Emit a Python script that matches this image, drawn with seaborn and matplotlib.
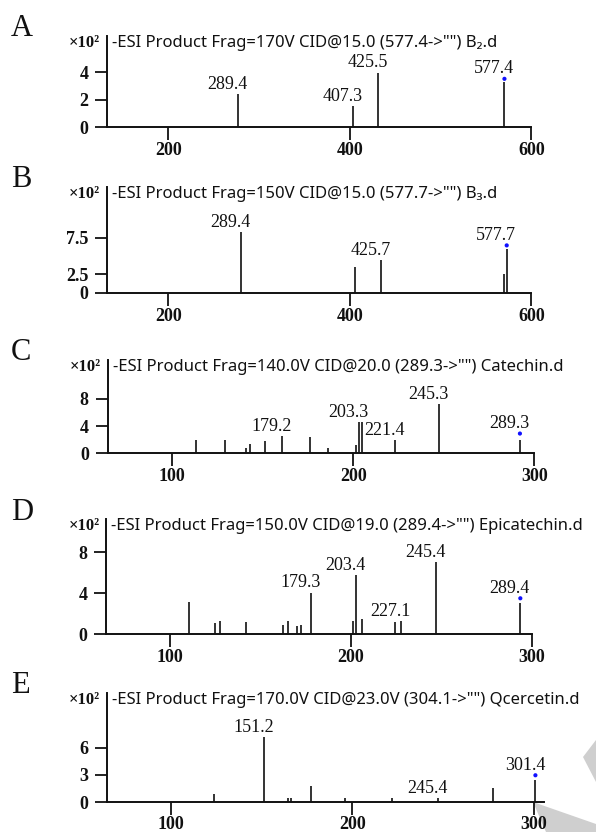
import matplotlib
matplotlib.use("Agg")
import matplotlib.pyplot as plt
import seaborn as sns
from matplotlib.patches import Polygon

sns.set_theme(style="ticks")
plt.rcParams['font.family'] = ['Liberation Serif', 'DejaVu Serif']

# ---- data (m/z positions and intensities x10^2) ----
A_mz = [277.1, 403.6, 431.2, 570.3]
A_int = [2.39, 1.51, 3.95, 3.29]
A_lab = {0: '289.4', 1: '407.3', 2: '425.5'}
A_prec = (570.3, 3.51, '577.4')
A_title = '-ESI Product Frag=170V CID@15.0 (577.4->"") B\u2082.d'

B_mz = [280.0, 405.2, 434.6, 569.8, 572.8]
B_int = [8.23, 3.55, 4.45, 2.50, 5.91]
B_lab = {0: '289.4', 2: '425.7'}
B_prec = (572.8, 6.45, '577.7')
B_title = '-ESI Product Frag=150V CID@15.0 (577.7->"") B\u2083.d'

C_mz = [113.2, 129.2, 140.9, 143.0, 151.4, 160.7, 175.8, 185.8,
        201.4, 203.0, 204.7, 223.2, 247.5, 292.0]
C_int = [1.96, 1.96, 0.83, 1.37, 1.76, 2.55, 2.35, 0.83,
         1.23, 4.60, 4.60, 1.96, 7.25, 1.96]
C_lab = {5: '179.2', 9: '203.3', 11: '221.4', 12: '245.3'}
C_prec = (292.0, 2.90, '289.3')
C_title = '-ESI Product Frag=140.0V CID@20.0 (289.3->"") Catechin.d'

D_mz = [110.5, 125.2, 127.5, 142.2, 162.7, 165.1, 170.3, 172.6,
        177.9, 200.9, 202.6, 206.0, 224.4, 227.6, 246.9, 293.5]
D_int = [3.19, 1.07, 1.30, 1.17, 0.94, 1.30, 0.81, 0.94,
         4.07, 1.30, 5.80, 1.47, 1.17, 1.30, 7.07, 3.03]
D_lab = {8: '179.3', 10: '203.4', 13: '227.1', 14: '245.4'}
D_prec = (293.5, 3.52, '289.4')
D_title = '-ESI Product Frag=150.0V CID@19.0 (289.4->"") Epicatechin.d'

E_mz = [123.9, 151.3, 164.5, 166.4, 177.3, 196.3, 222.1, 247.2, 277.8, 301.0]
E_int = [0.88, 7.12, 0.51, 0.51, 1.82, 0.47, 0.47, 0.47, 1.61, 2.45]
E_lab = {1: '151.2', 7: '245.4'}
E_prec = (301.0, 2.96, '301.4')
E_title = '-ESI Product Frag=170.0V CID@23.0V (304.1->"") Qcercetin.d'

W, H = 596, 832
fig = plt.figure(figsize=(W / 100, H / 100), dpi=100)

# grey decoration in the lower right corner
for pts in ([(583, 757), (596, 740), (596, 782)],
            [(533, 802), (596, 824), (596, 832), (546, 832)]):
    fig.add_artist(Polygon([(x / W, 1 - y / H) for x, y in pts], closed=True,
                           transform=fig.transFigure, facecolor='#cfcfcf',
                           edgecolor='none', zorder=0))

serif_b = dict(family=['Liberation Serif', 'DejaVu Serif'], weight='bold')
sans = ['Noto Sans', 'DejaVu Sans']


def panel(box, letter, mz, inten, lab, prec, title, xlim, ytop,
          xticks, yticks, yticklabels, xpad=1.2):
    left, right, top, bottom = box
    ax = fig.add_axes([left / W, 1 - bottom / H, (right - left) / W, (bottom - top) / H])
    ax.patch.set_alpha(0)
    ax.vlines(mz, 0, inten, color='#111111', lw=1.2)
    sns.scatterplot(x=[prec[0]], y=[prec[1]], ax=ax, color='#1010ff', marker='o',
                    s=9, edgecolor='none', legend=False)
    for i, t in lab.items():
        ax.annotate(t, xy=(mz[i], inten[i]), xytext=(-7.6, 3.9), textcoords='offset points',
                    ha='center', va='baseline', fontsize=13, color='#111111')
    ax.annotate(prec[2], xy=(prec[0], prec[1]), xytext=(-7.6, 3.9), textcoords='offset points',
                ha='center', va='baseline', fontsize=13, color='#111111')
    ax.set_xlim(*xlim)
    ax.set_ylim(0, ytop)
    ax.set_xticks(xticks)
    ax.set_xticklabels([str(v) for v in xticks], fontdict=serif_b, fontsize=13)
    ax.set_yticks(yticks)
    ax.set_yticklabels(yticklabels, fontdict=serif_b, fontsize=13)
    ax.tick_params(axis='x', direction='out', length=9.5, width=1.3, pad=xpad, colors='#111111')
    ax.tick_params(axis='y', direction='out', length=9, width=1.3, pad=4.5, colors='#111111')
    sns.despine(ax=ax)
    for s in ('left', 'bottom'):
        ax.spines[s].set_linewidth(1.4)
        ax.spines[s].set_color('#111111')
    ax.set_xlabel('')
    ax.set_ylabel('')
    # header texts in pixel positions above the axis
    ty = top + 7
    fig.text((left + 5) / W, 1 - ty / H, title, family=sans, fontsize=12,
             ha='left', va='center', color='#111111')
    fig.text((left - 7) / W, 1 - ty / H, '\u00d710\u00b2', fontsize=12, ha='right',
             va='center', color='#111111', **serif_b)
    fig.text(11 / W, 1 - (top - 7) / H, letter, fontsize=22, ha='left', va='center',
             family=['Liberation Serif', 'DejaVu Serif'], color='#111111')
    return ax


panel((107.2, 531.4, 36, 127), 'A', A_mz, A_int, A_lab, A_prec, A_title,
      (132.6, 600), 6.63, [200, 400, 600], [0, 2, 4], ['0', '2', '4'])
panel((107.2, 531.4, 186.7, 292.7), 'B', B_mz, B_int, B_lab, B_prec, B_title,
      (132.6, 600), 14.45, [200, 400, 600], [0, 2.5, 7.5], ['0', '2.5', '7.5'])
panel((107.6, 534.4, 360, 453.3), 'C', C_mz, C_int, C_lab, C_prec, C_title,
      (64.3, 300), 13.7, [100, 200, 300], [0, 4, 8], ['0', '4', '8'])
panel((106.4, 532.1, 519.3, 634.3), 'D', D_mz, D_int, D_lab, D_prec, D_title,
      (65.0, 300), 11.24, [100, 200, 300], [0, 4, 8], ['0', '4', '8'])
panel((107.2, 544.3, 692.7, 802.3), 'E', E_mz, E_int, E_lab, E_prec, E_title,
      (65.0, 305.9), 12.0, [100, 200, 300], [0, 3, 6], ['0', '3', '6'], xpad=0.2)

fig.savefig('out.png', dpi=100, facecolor='white')
